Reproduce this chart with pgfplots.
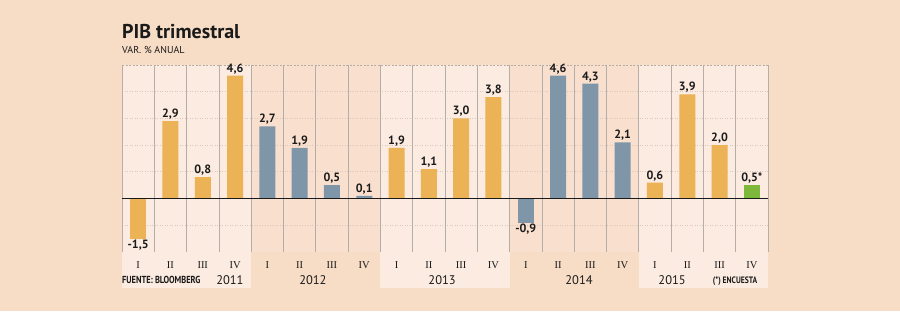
\documentclass[border=0pt]{standalone}
\usepackage{fontspec}
\setmainfont{PT Sans}
\newfontfamily\qfont{Liberation Serif}
\newfontfamily\condfont[FakeStretch=0.82]{PT Sans}
\usepackage{pgfplots}
\pgfplotsset{compat=1.18}

\definecolor{pagebg}{HTML}{F7DCC6}
\definecolor{bandlight}{HTML}{FCEBE0}
\definecolor{banddark}{HTML}{F9E0CE}
\definecolor{barorange}{HTML}{EBB256}
\definecolor{barblue}{HTML}{7F95A8}
\definecolor{bargreen}{HTML}{7DB83A}
\definecolor{gridgray}{HTML}{B5ADA7}
\definecolor{dotgray}{HTML}{D9C7BD}
\definecolor{ink}{HTML}{1A1A1A}

\pgfplotsset{
  vlabel/.style={
    point meta=y,
    nodes near coords={\pgfmathprintnumber[fixed,fixed zerofill,precision=1,use comma,assume math mode=true]{\pgfplotspointmeta}},
    every node near coord/.append style={font=\bfseries\fontsize{12}{12}\selectfont, text=ink, inner sep=1.5pt},
  },
  qbar/.style={ybar, bar width=16pt, draw=none, fill=#1},
}
\tikzset{
  quarter/.style={anchor=base, text=ink, inner sep=0, font=\qfont\fontsize{10.5}{10.5}\selectfont, yshift=-16pt},
  year/.style={anchor=base, text=ink, font=\fontsize{12.5}{12.5}\selectfont, yshift=-32pt},
}

\begin{document}
\begin{tikzpicture}[x=1pt,y=1pt]
\fill[pagebg] (0,0) rectangle (900,311);
\node[anchor=base west, inner sep=0, text=ink, font=\bfseries\fontsize{20}{20}\selectfont] at (122,272) {PIB trimestral};
\node[anchor=base west, inner sep=0, text=ink, font=\fontsize{10}{10}\selectfont] at (122,257) {VAR. \% ANUAL};

\begin{axis}[
  at={(122pt,59pt)}, anchor=south west,
  width=646pt, height=187pt, scale only axis,
  xmin=-0.5, xmax=19.5, ymin=-2, ymax=5,
  clip=false,
  axis line style={draw=none},
  major tick length=0pt,
  xtick=\empty, ytick=\empty,
]
% year bands
\fill[bandlight] ([yshift=-36pt]axis cs:-0.5,-2) rectangle (axis cs:3.5,5);
\fill[banddark]  (axis cs:3.5,-2) rectangle (axis cs:7.5,5);
\fill[bandlight] ([yshift=-36pt]axis cs:7.5,-2) rectangle (axis cs:11.5,5);
\fill[banddark]  (axis cs:11.5,-2) rectangle (axis cs:15.5,5);
\fill[bandlight] ([yshift=-36pt]axis cs:15.5,-2) rectangle (axis cs:19.5,5);
% grid
\pgfplotsinvokeforeach{-1,1,2,3,4}{
  \draw[dotgray, line width=0.8pt, dash pattern=on 1pt off 1.5pt] (axis cs:-0.5,#1) -- (axis cs:19.5,#1);
}
\draw[gridgray, line width=0.7pt, dash pattern=on 2pt off 1.5pt] (axis cs:-0.5,5) -- (axis cs:19.5,5);
\pgfplotsinvokeforeach{-0.5,0.5,...,19.5}{
  \draw[gridgray, line width=0.8pt] (axis cs:#1,-2) -- (axis cs:#1,5);
}

% quarter labels
\pgfplotsinvokeforeach{0,4,8,12,16}{\node[quarter] at (axis cs:#1,-2) {I};}
\pgfplotsinvokeforeach{1,5,9,13,17}{\node[quarter] at (axis cs:#1,-2) {II};}
\pgfplotsinvokeforeach{2,6,10,14,18}{\node[quarter] at (axis cs:#1,-2) {III};}
\pgfplotsinvokeforeach{3,7,11,15,19}{\node[quarter] at (axis cs:#1,-2) {IV};}

% bars
\addplot[qbar=barorange, vlabel] coordinates {
  (1,2.9) (2,0.8) (3,4.6) (8,1.9) (9,1.1) (10,3.0) (11,3.8) (16,0.6) (17,3.9) (18,2.0)
};
\addplot[qbar=barorange, vlabel, every node near coord/.append style={anchor=north}] coordinates {
  (0,-1.5)
};
\addplot[qbar=barblue, vlabel] coordinates {
  (4,2.7) (5,1.9) (6,0.5) (7,0.1) (13,4.6) (14,4.3) (15,2.1)
};
\addplot[qbar=barblue, vlabel, every node near coord/.append style={anchor=north}] coordinates {
  (12,-0.9)
};
\addplot[qbar=bargreen, vlabel,
  nodes near coords={\pgfmathprintnumber[fixed,fixed zerofill,precision=1,use comma,assume math mode=true]{\pgfplotspointmeta}*}] coordinates {
  (19,0.5)
};

\draw[ink, line width=0.9pt] (axis cs:-0.5,0) -- (axis cs:19.5,0);

% year labels and notes
\node[year] at (axis cs:2.84,-2) {2011};
\node[year] at (axis cs:5.41,-2) {2012};
\node[year] at (axis cs:9.41,-2) {2013};
\node[year] at (axis cs:13.65,-2) {2014};
\node[year] at (axis cs:16.53,-2) {2015};
\node[anchor=base west, inner sep=0, text=ink, font=\condfont\bfseries\fontsize{10.2}{10.2}\selectfont] at ([yshift=-31pt]axis cs:-0.5,-2) {FUENTE: BLOOMBERG};
\node[anchor=base, inner sep=0, text=ink, font=\condfont\bfseries\fontsize{9.3}{9.3}\selectfont] at ([yshift=-31pt]axis cs:18.48,-2) {(*) ENCUESTA};
\end{axis}
\end{tikzpicture}
\end{document}
